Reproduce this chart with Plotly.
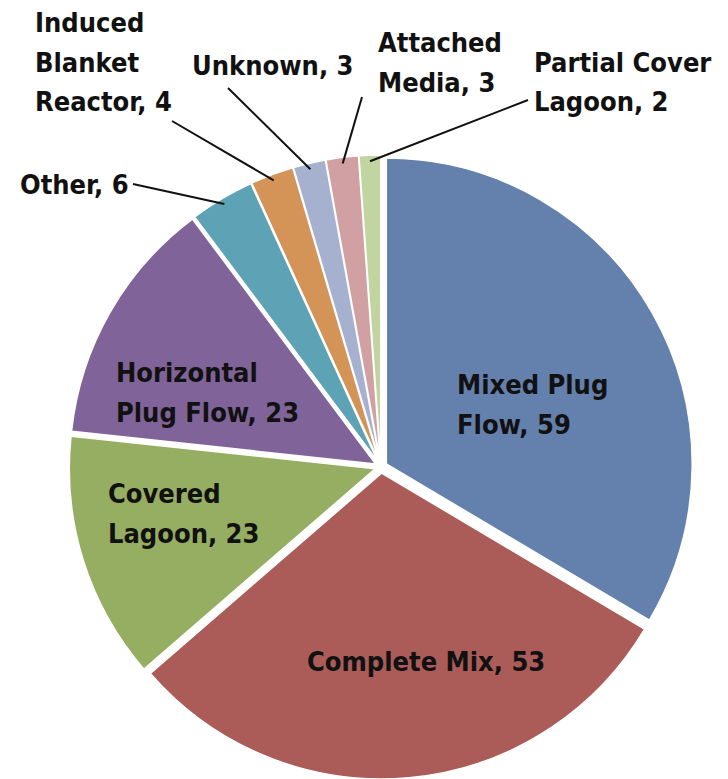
import math
import plotly.graph_objects as go

# Digester types and counts
categories = ["Mixed Plug Flow", "Complete Mix", "Covered Lagoon", "Horizontal Plug Flow",
              "Other", "Induced Blanket Reactor", "Unknown", "Attached Media",
              "Partial Cover Lagoon"]
counts = [59, 53, 23, 23, 6, 4, 3, 3, 2]
label_lines = [["Mixed Plug", "Flow, 59"], ["Complete Mix, 53"], ["Covered", "Lagoon, 23"],
               ["Horizontal", "Plug Flow, 23"], ["Other, 6"],
               ["Induced", "Blanket", "Reactor, 4"], ["Unknown, 3"],
               ["Attached", "Media, 3"], ["Partial Cover", "Lagoon, 2"]]
colors = ["#6480AD", "#AB5B58", "#96AE61", "#806499", "#5EA3B5",
          "#D49357", "#A6B1CF", "#D0A0A3", "#C2D4A0"]

W, H = 728, 779
PULL = 0.02
FONT = "DejaVu Sans Condensed, Liberation Sans, sans-serif"
FONT_SIZE = 27
LINE_GAP = 40

# pie domain in pixels (square box)
cx, cy, half = 381, 468, 313
dom_x = [(cx - half) / W, (cx + half) / W]
dom_y = [max(0, 1 - (cy + half) / H), 1 - (cy - half) / H]
radius = min(half, (H - cy)) / (1 + PULL)


def px(x):
    return x / W


def py(y):
    return 1 - y / H


fig = go.Figure(go.Pie(
    labels=categories, values=counts, sort=False, direction="clockwise",
    rotation=0, pull=[PULL] * len(counts), textinfo="none", hoverinfo="label+value",
    marker=dict(colors=colors, line=dict(color="white", width=1.5)),
    domain=dict(x=dom_x, y=dom_y), showlegend=False,
))

# label placement: (left x, first-line middle y) in pixels
label_pos = [(455, 384), (305, 661), (106, 493), (114, 372),
             (18, 185), (33, 22), (190, 65), (376, 43), (532, 62)]
# leader line starting points (near the label) for the small slices
leader_start = {4: (133, 184), 5: (172, 121), 6: (228, 88), 7: (362, 97), 8: (528, 100)}

annotations = []
for lines, (lx, ly) in zip(label_lines, label_pos):
    for k, line in enumerate(lines):
        annotations.append(dict(
            x=px(lx), y=py(ly + k * LINE_GAP), xref="paper", yref="paper",
            text=f"<b>{line}</b>", showarrow=False,
            xanchor="left", yanchor="middle", align="left",
            font=dict(family=FONT, size=FONT_SIZE, color="#111111"),
        ))

shapes = []
total = sum(counts)
cum = 0
for i, v in enumerate(counts):
    mid = (cum + v / 2) / total * 2 * math.pi
    cum += v
    if i in leader_start:
        ang = math.pi / 2 - mid
        rr = radius * (1 + PULL) - 4
        hx = cx + rr * math.cos(ang)
        hy = cy - rr * math.sin(ang)
        sx, sy = leader_start[i]
        shapes.append(dict(type="line", xref="paper", yref="paper",
                           x0=px(sx), y0=py(sy), x1=px(hx), y1=py(hy),
                           line=dict(color="#111111", width=2)))

fig.update_layout(
    width=W, height=H, margin=dict(l=0, r=0, t=0, b=0),
    paper_bgcolor="white", plot_bgcolor="white",
    annotations=annotations, shapes=shapes,
)

fig.write_html("out.html")
